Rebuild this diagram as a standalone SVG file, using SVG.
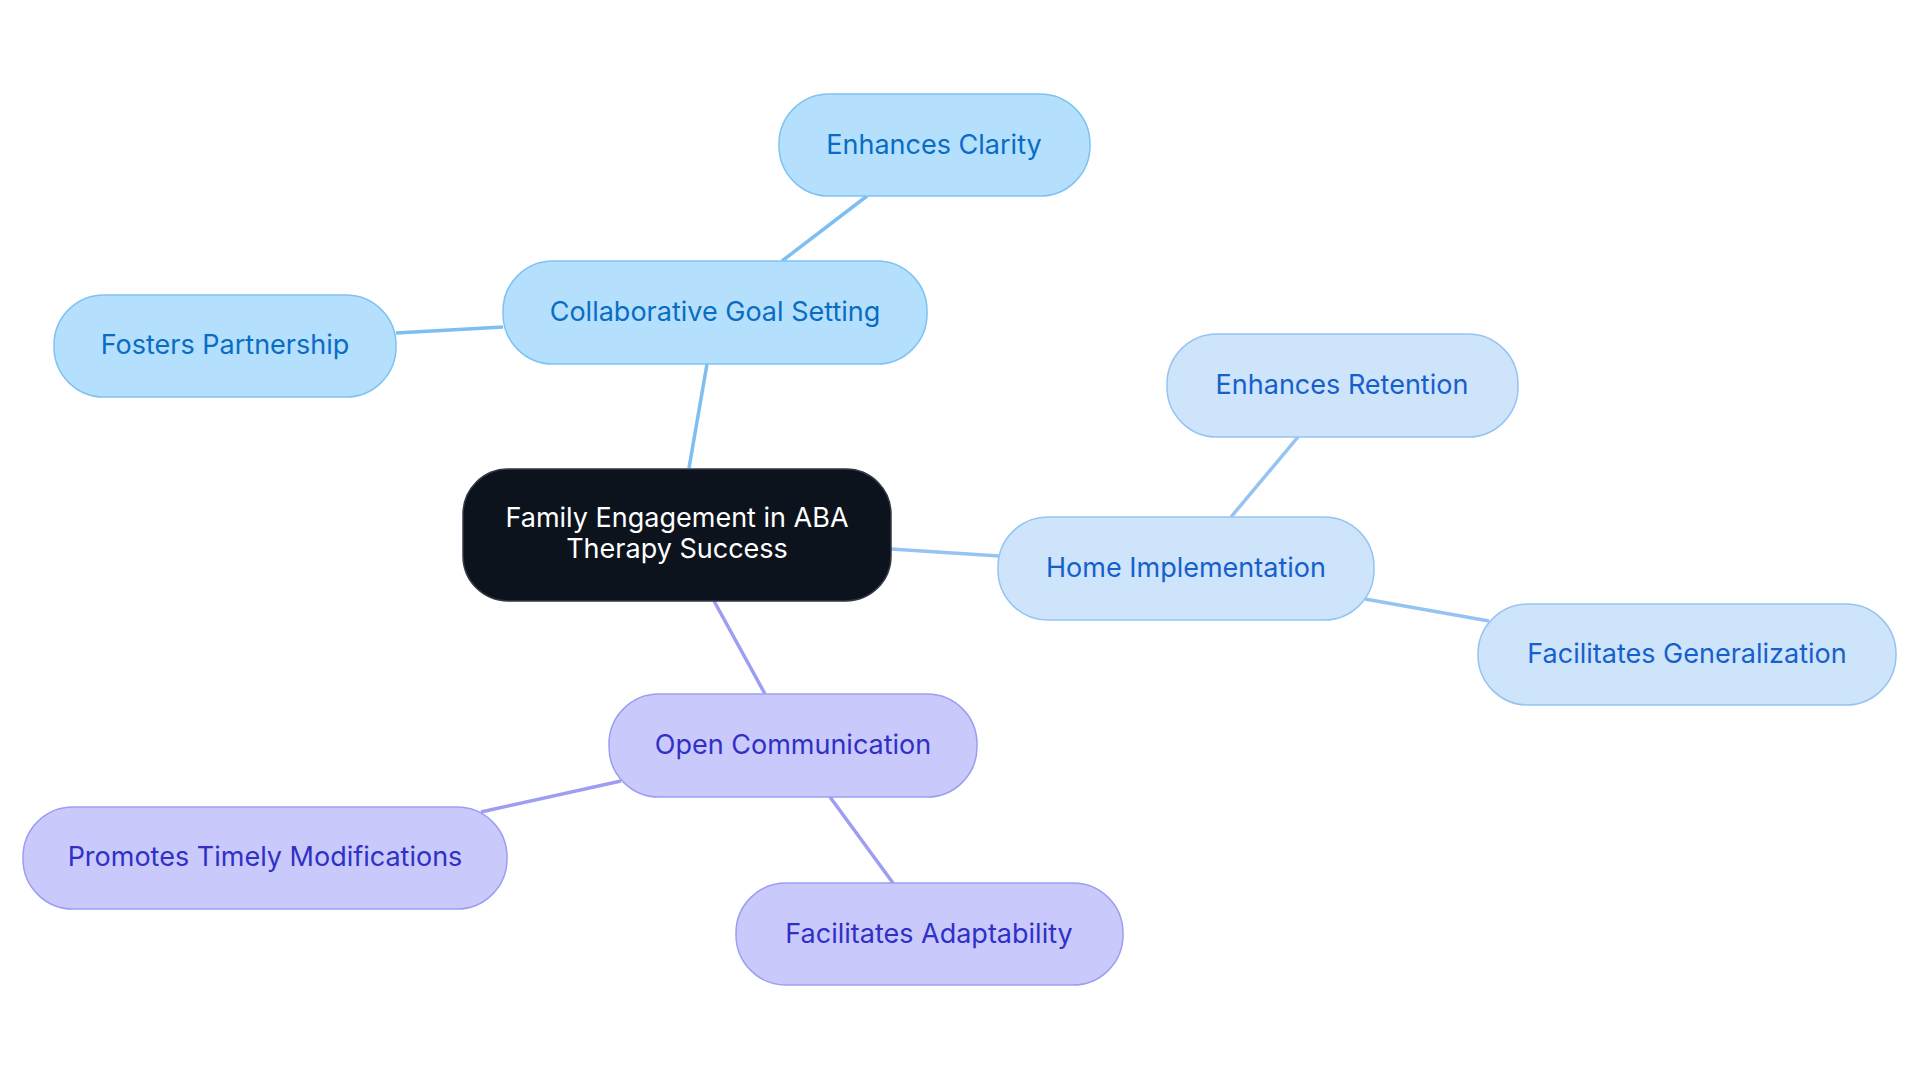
<svg xmlns="http://www.w3.org/2000/svg" width="1920" height="1083" viewBox="0 0 1920 1083">
<style>
text{font-family:Inter,"Noto Sans",sans-serif;font-size:27px;text-anchor:middle;dominant-baseline:central}
.a rect{fill:#b4e0fd;stroke:#7fc2f2;stroke-width:1.5}.a text{fill:#0a6cc2}
.b rect{fill:#cee4fb;stroke:#95c4f2;stroke-width:1.5}.b text{fill:#1660cc}
.c rect{fill:#c9c9fc;stroke:#9d9df2;stroke-width:1.5}.c text{fill:#3030c6}
.e line{stroke-width:3.5}
</style>
<rect width="1920" height="1083" fill="#fff"/>
<g id="edges" class="e">
<line x1="689" y1="468" x2="707" y2="364" stroke="#7dbff0"/>
<line x1="782" y1="261" x2="867" y2="196" stroke="#7dbff0"/>
<line x1="503" y1="327" x2="396" y2="333" stroke="#7dbff0"/>
<line x1="891" y1="549" x2="999" y2="556" stroke="#96c4f2"/>
<line x1="1231" y1="517" x2="1298" y2="437" stroke="#96c4f2"/>
<line x1="1365" y1="599" x2="1489" y2="621" stroke="#96c4f2"/>
<line x1="714" y1="601" x2="765" y2="694" stroke="#9d9df2"/>
<line x1="621" y1="781" x2="481" y2="812" stroke="#9d9df2"/>
<line x1="830" y1="797" x2="893" y2="883" stroke="#9d9df2"/>
</g>
<g id="center"><rect x="463" y="469" width="428" height="132" rx="45" fill="#0c131c" stroke="#333a44" stroke-width="1.5"/><text x="677" y="517" fill="#fff">Family Engagement in ABA</text><text x="677" y="548" fill="#fff">Therapy Success</text></g>
<g id="collab" class="a"><rect x="503" y="261" width="424" height="103" rx="50"/><text x="715" y="311">Collaborative Goal Setting</text></g>
<g id="clarity" class="a"><rect x="779" y="94" width="311" height="102" rx="50"/><text x="934" y="144">Enhances Clarity</text></g>
<g id="fosters" class="a"><rect x="54" y="295" width="342" height="102" rx="50"/><text x="225" y="344">Fosters Partnership</text></g>
<g id="home" class="b"><rect x="998" y="517" width="376" height="103" rx="50"/><text x="1186" y="567">Home Implementation</text></g>
<g id="retention" class="b"><rect x="1167" y="334" width="351" height="103" rx="50"/><text x="1342" y="384">Enhances Retention</text></g>
<g id="gen" class="b"><rect x="1478" y="604" width="418" height="101" rx="50"/><text x="1687" y="653">Facilitates Generalization</text></g>
<g id="open" class="c"><rect x="609" y="694" width="368" height="103" rx="50"/><text x="793" y="744">Open Communication</text></g>
<g id="promotes" class="c"><rect x="23" y="807" width="484" height="102" rx="50"/><text x="265" y="856">Promotes Timely Modifications</text></g>
<g id="adapt" class="c"><rect x="736" y="883" width="387" height="102" rx="50"/><text x="929" y="933">Facilitates Adaptability</text></g>
</svg>
